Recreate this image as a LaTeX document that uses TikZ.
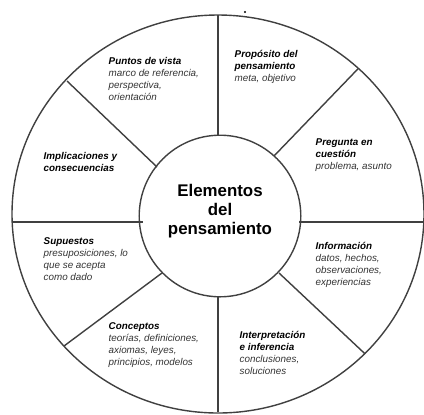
\documentclass[tikz,border=0pt]{standalone}
\usepackage{fontspec}
\setmainfont{Liberation Sans}

\tikzset{every path/.style={line width=1 pt}}
\tikzset{sector/.style={anchor=north west, inner sep=0pt, align=left, text=black!80,
  font=\fontsize{7}{8.4}\selectfont\itshape}}
\newcommand{\tit}[1]{\textbf{\color{black}#1}}

\begin{document}
\begin{tikzpicture}
\useasboundingbox (-5.45,-5.0) rectangle (5.15,5.35);
\begin{scope}[draw=black!75]
\draw (0,0) ellipse[x radius=5.15, y radius=4.975];
\draw (0.05,-0.05) circle[radius=2.02];
\draw (0,1.975) -- (0,4.975);
\draw (0,-2.075) -- (0,-4.95);
\draw (-1.875,-0.2) -- (-5.15,-0.2);
\draw (2.025,-0.2) -- (5.15,-0.2);
\draw (-1.525,1.175) -- (-3.775,3.325);
\draw (1.4,1.45) -- (3.5,3.63);
\draw (-1.4,-1.475) -- (-3.85,-3.3);
\draw (1.525,-1.475) -- (3.68,-3.5);
\end{scope}
\fill (0.675,5.05) circle[radius=.03];

\node[align=center, font=\fontsize{12}{13.6}\selectfont\bfseries] (centro) at (0.05,0.08)
  {Elementos\\del\\pensamiento};

\node[sector] (puntos) at (-2.75,3.925)
  {\tit{Puntos de vista}\\marco de referencia,\\perspectiva,\\orientación};
\node[sector] (proposito) at (0.4,4.1)
  {\tit{Propósito del}\\\tit{pensamiento}\\meta, objetivo};
\node[sector] (pregunta) at (2.425,1.9)
  {\tit{Pregunta en}\\\tit{cuestión}\\problema, asunto};
\node[sector] (informacion) at (2.425,-0.7)
  {\tit{Información}\\datos, hechos,\\observaciones,\\experiencias};
\node[sector] (interpretacion) at (0.525,-2.925)
  {\tit{Interpretación}\\\tit{e inferencia}\\conclusiones,\\soluciones};
\node[sector] (conceptos) at (-2.75,-2.7)
  {\tit{Conceptos}\\teorías, definiciones,\\axiomas, leyes,\\principios, modelos};
\node[sector] (supuestos) at (-4.375,-0.575)
  {\tit{Supuestos}\\presuposiciones, lo\\que se acepta\\como dado};
\node[sector] (implicaciones) at (-4.375,1.55)
  {\tit{Implicaciones y}\\\tit{consecuencias}};
\end{tikzpicture}
\end{document}
